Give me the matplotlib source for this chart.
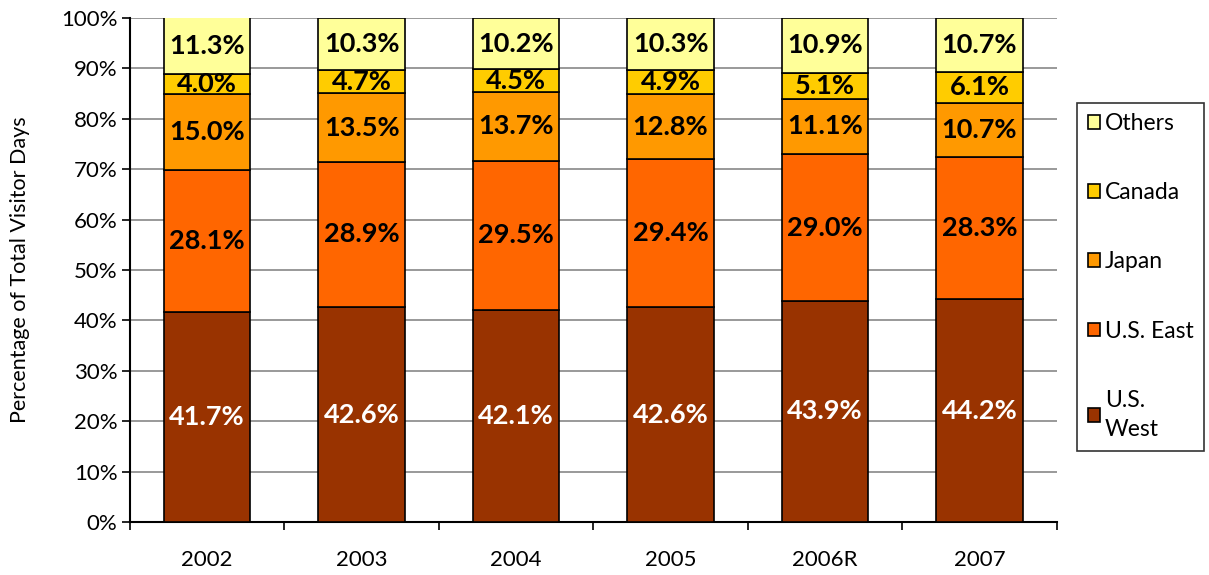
import numpy as np
import matplotlib.pyplot as plt

years = ['2002', '2003', '2004', '2005', '2006R', '2007']
series = ['U.S. West', 'U.S. East', 'Japan', 'Canada', 'Others']
us_west = [41.7, 42.6, 42.1, 42.6, 43.9, 44.2]
us_east = [28.1, 28.9, 29.5, 29.4, 29.0, 28.3]
japan = [15.0, 13.5, 13.7, 12.8, 11.1, 10.7]
canada = [4.0, 4.7, 4.5, 4.9, 5.1, 6.1]
others = [11.3, 10.3, 10.2, 10.3, 10.9, 10.7]

colors = ['#993300', '#FF6600', '#FF9900', '#FFCC00', '#FFFF99']
text_colors = ['white', 'black', 'black', 'black', 'black']

plt.rcParams['font.family'] = ['Lato', 'DejaVu Sans']

fig = plt.figure(figsize=(12.09, 5.75), dpi=100)
ax = fig.add_axes([0.1075, 0.092, 0.7665, 0.877])

x = np.arange(len(years))
data = [us_west, us_east, japan, canada, others]
bottom = np.zeros(len(years))
handles = []
for vals, name, c, tc in zip(data, series, colors, text_colors):
    vals = np.array(vals)
    b = ax.bar(x, vals, 0.56, bottom=bottom, color=c, edgecolor='black', linewidth=1.2, label=name, zorder=3)
    handles.append(b)
    for xi, v, bt in zip(x, vals, bottom):
        ax.text(xi, bt + v / 2, f'{v:.1f}%', ha='center', va='center', color=tc,
                fontsize=19.5, fontweight='bold', zorder=4)
    bottom += vals

ax.set_xlim(-0.5, len(years) - 0.5)
ax.set_ylim(0, 100)
ax.set_yticks(np.arange(0, 101, 10))
ax.set_yticklabels([f'{v}%' for v in range(0, 101, 10)], fontsize=16)
ax.set_xticks(x)
ax.set_xticklabels(years, fontsize=16)
ax.set_xticks(np.arange(-0.5, len(years), 1), minor=True)
ax.tick_params(axis='x', which='major', length=0, pad=20)
ax.tick_params(axis='x', which='minor', length=6, width=1.2, direction='out')
ax.tick_params(axis='y', length=6, width=1.2, direction='out', pad=3)
ax.grid(axis='y', color='#888888', linewidth=1.2, zorder=0)
ax.spines['top'].set_visible(False)
ax.spines['right'].set_visible(False)
ax.spines['left'].set_linewidth(1.5)
ax.spines['bottom'].set_linewidth(1.5)
ax.set_ylabel('Percentage of Total Visitor Days', fontsize=15.5, labelpad=22)

labels = ['Others', 'Canada', 'Japan', 'U.S. East', 'U.S.\nWest']
leg = fig.legend(handles[::-1], labels, loc='upper left', bbox_to_anchor=(0.891, 0.821),
                 borderaxespad=0, fontsize=16.5, frameon=True, fancybox=False, edgecolor='black',
                 handlelength=0.55, handleheight=0.55, handletextpad=0.2,
                 labelspacing=2.1, borderpad=0.45)
leg.get_frame().set_linewidth(1.2)
leg.get_texts()[-1].set_linespacing(1.5)

fig.savefig('out.png', dpi=100)
